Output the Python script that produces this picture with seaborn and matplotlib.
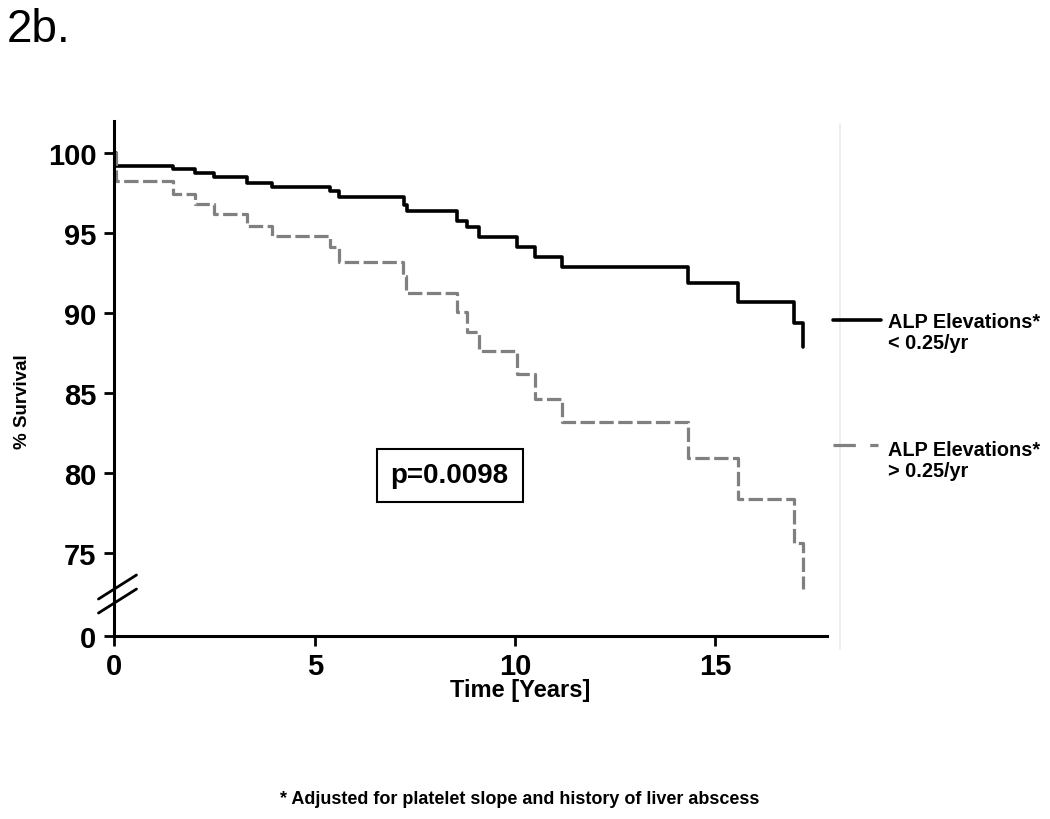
import numpy as np
import pandas as pd
import matplotlib
matplotlib.use('Agg')
import matplotlib.pyplot as plt
from matplotlib.lines import Line2D
import seaborn as sns

sns.set_theme(style="ticks")
plt.rcParams['font.family'] = ['Liberation Sans', 'DejaVu Sans']
plt.rcParams['text.color'] = 'black'
plt.rcParams['axes.labelcolor'] = 'black'

# Kaplan-Meier steps
years_low = [0, 0.05, 1.47, 2.01, 2.49, 3.32, 3.93, 5.39, 5.6, 7.24, 7.31,
             8.54, 8.79, 9.11, 10.04, 10.49, 11.18, 14.32, 15.57, 16.97, 17.18]
surv_low = [100, 99.24, 99.03, 98.78, 98.51, 98.16, 97.89, 97.68, 97.26, 96.78, 96.43,
            95.8, 95.39, 94.76, 94.14, 93.51, 92.89, 91.9, 90.74, 89.42, 87.9]

years_high = [0, 0.05, 1.47, 2.01, 2.49, 3.32, 3.93, 5.39, 5.6, 7.21, 7.29,
              8.54, 8.79, 9.11, 10.04, 10.49, 11.18, 14.32, 15.57, 16.97, 17.18]
surv_high = [100, 98.3, 97.47, 96.84, 96.22, 95.49, 94.86, 94.14, 93.24, 92.36, 91.26,
             90.08, 88.86, 87.68, 86.22, 84.66, 83.2, 80.95, 78.4, 75.65, 72.75]

label_low = ['ALP Elevations*', '< 0.25/yr']
label_high = ['ALP Elevations*', '> 0.25/yr']
y_ticks = [0, 75, 80, 85, 90, 95, 100]
x_ticks = [0, 5, 10, 15]
p_text = 'p=0.0098'
footnote = '* Adjusted for platelet slope and history of liver abscess'

df_low = pd.DataFrame({'Years': years_low, 'Survival': surv_low})
df_high = pd.DataFrame({'Years': years_high, 'Survival': surv_high})

fig = plt.figure(figsize=(10.5, 8.2), dpi=100)
ax = fig.add_axes([0.109, 0.2235, 0.679, 0.6277])

sns.lineplot(data=df_low, x='Years', y='Survival', ax=ax, color='black', lw=2.6,
             drawstyle='steps-post', estimator=None, sort=False)
sns.lineplot(data=df_high, x='Years', y='Survival', ax=ax, color='#808080', lw=2.3,
             drawstyle='steps-post', estimator=None, sort=False,
             linestyle=(0, (4.5, 1.4)))

# broken y axis: 0 squeezed right under ~72
lo, cut = 69.86, 72.0

def fwd(y):
    y = np.asarray(y, dtype=float)
    return np.where(y >= cut, y, lo + y * (cut - lo) / cut)

def inv(v):
    v = np.asarray(v, dtype=float)
    return np.where(v >= cut, v, (v - lo) * cut / (cut - lo))

ax.set_yscale('function', functions=(fwd, inv))
ax.set_ylim(0, 102.03)
ax.set_xlim(0, 17.8)
ax.set_yticks(y_ticks)
ax.set_yticklabels([str(t) for t in y_ticks])
ax.set_xticks(x_ticks)
ax.set_xticklabels([str(t) for t in x_ticks])

sns.despine(ax=ax)
for s in ['left', 'bottom']:
    ax.spines[s].set_linewidth(2.2)
    ax.spines[s].set_color('black')
ax.tick_params(direction='out', length=7, width=2, labelsize=21, colors='black')
ax.tick_params(axis='y', pad=6)
ax.tick_params(axis='x', pad=5)
for lab in ax.get_xticklabels() + ax.get_yticklabels():
    lab.set_fontweight('bold')

ax.set_ylabel('% Survival', fontsize=13.5, fontweight='bold')
ax.yaxis.set_label_coords(-0.129, 0.456)
ax.set_xlabel('Time [Years]', fontsize=17, fontweight='bold')
ax.xaxis.set_label_coords(0.569, -0.104)
ax.xaxis.label.set_va('center')
ax.yaxis.label.set_va('center')

# break marks on the y axis
for y0, y1 in [(0.0713, 0.118), (0.0441, 0.0907)]:
    ax.plot([-0.0224, 0.0309], [y0, y1], transform=ax.transAxes, color='black',
            lw=2, clip_on=False)

# p-value box
ax.text(8.37, 79.88, p_text, ha='center', va='center', fontsize=20, fontweight='bold',
        bbox=dict(boxstyle='square,pad=0.5', fc='white', ec='black', lw=1.5))

# legend drawn by hand so the handle sits on the first line
fig.add_artist(Line2D([0.8, 0.8], [0.207, 0.848], color='#ebebeb', lw=1.2))
fig.add_artist(Line2D([0.793, 0.839], [0.6085, 0.6085], color='black', lw=2.6))
fig.text(0.8457, 0.607, label_low[0], fontsize=14.3, fontweight='bold', va='center')
fig.text(0.8457, 0.5805, label_low[1], fontsize=14.3, fontweight='bold', va='center')
fig.add_artist(Line2D([0.793, 0.836], [0.456, 0.456], color='#808080', lw=2.3,
                      linestyle=(0, (7, 4.5))))
fig.text(0.8457, 0.451, label_high[0], fontsize=14.3, fontweight='bold', va='center')
fig.text(0.8457, 0.4255, label_high[1], fontsize=14.3, fontweight='bold', va='center')

fig.text(0.006, 0.99, '2b.', fontsize=33, ha='left', va='top')
fig.text(0.495, 0.0244, footnote, fontsize=13, fontweight='bold', ha='center', va='center')

fig.savefig('out.png', dpi=100, facecolor='white')
